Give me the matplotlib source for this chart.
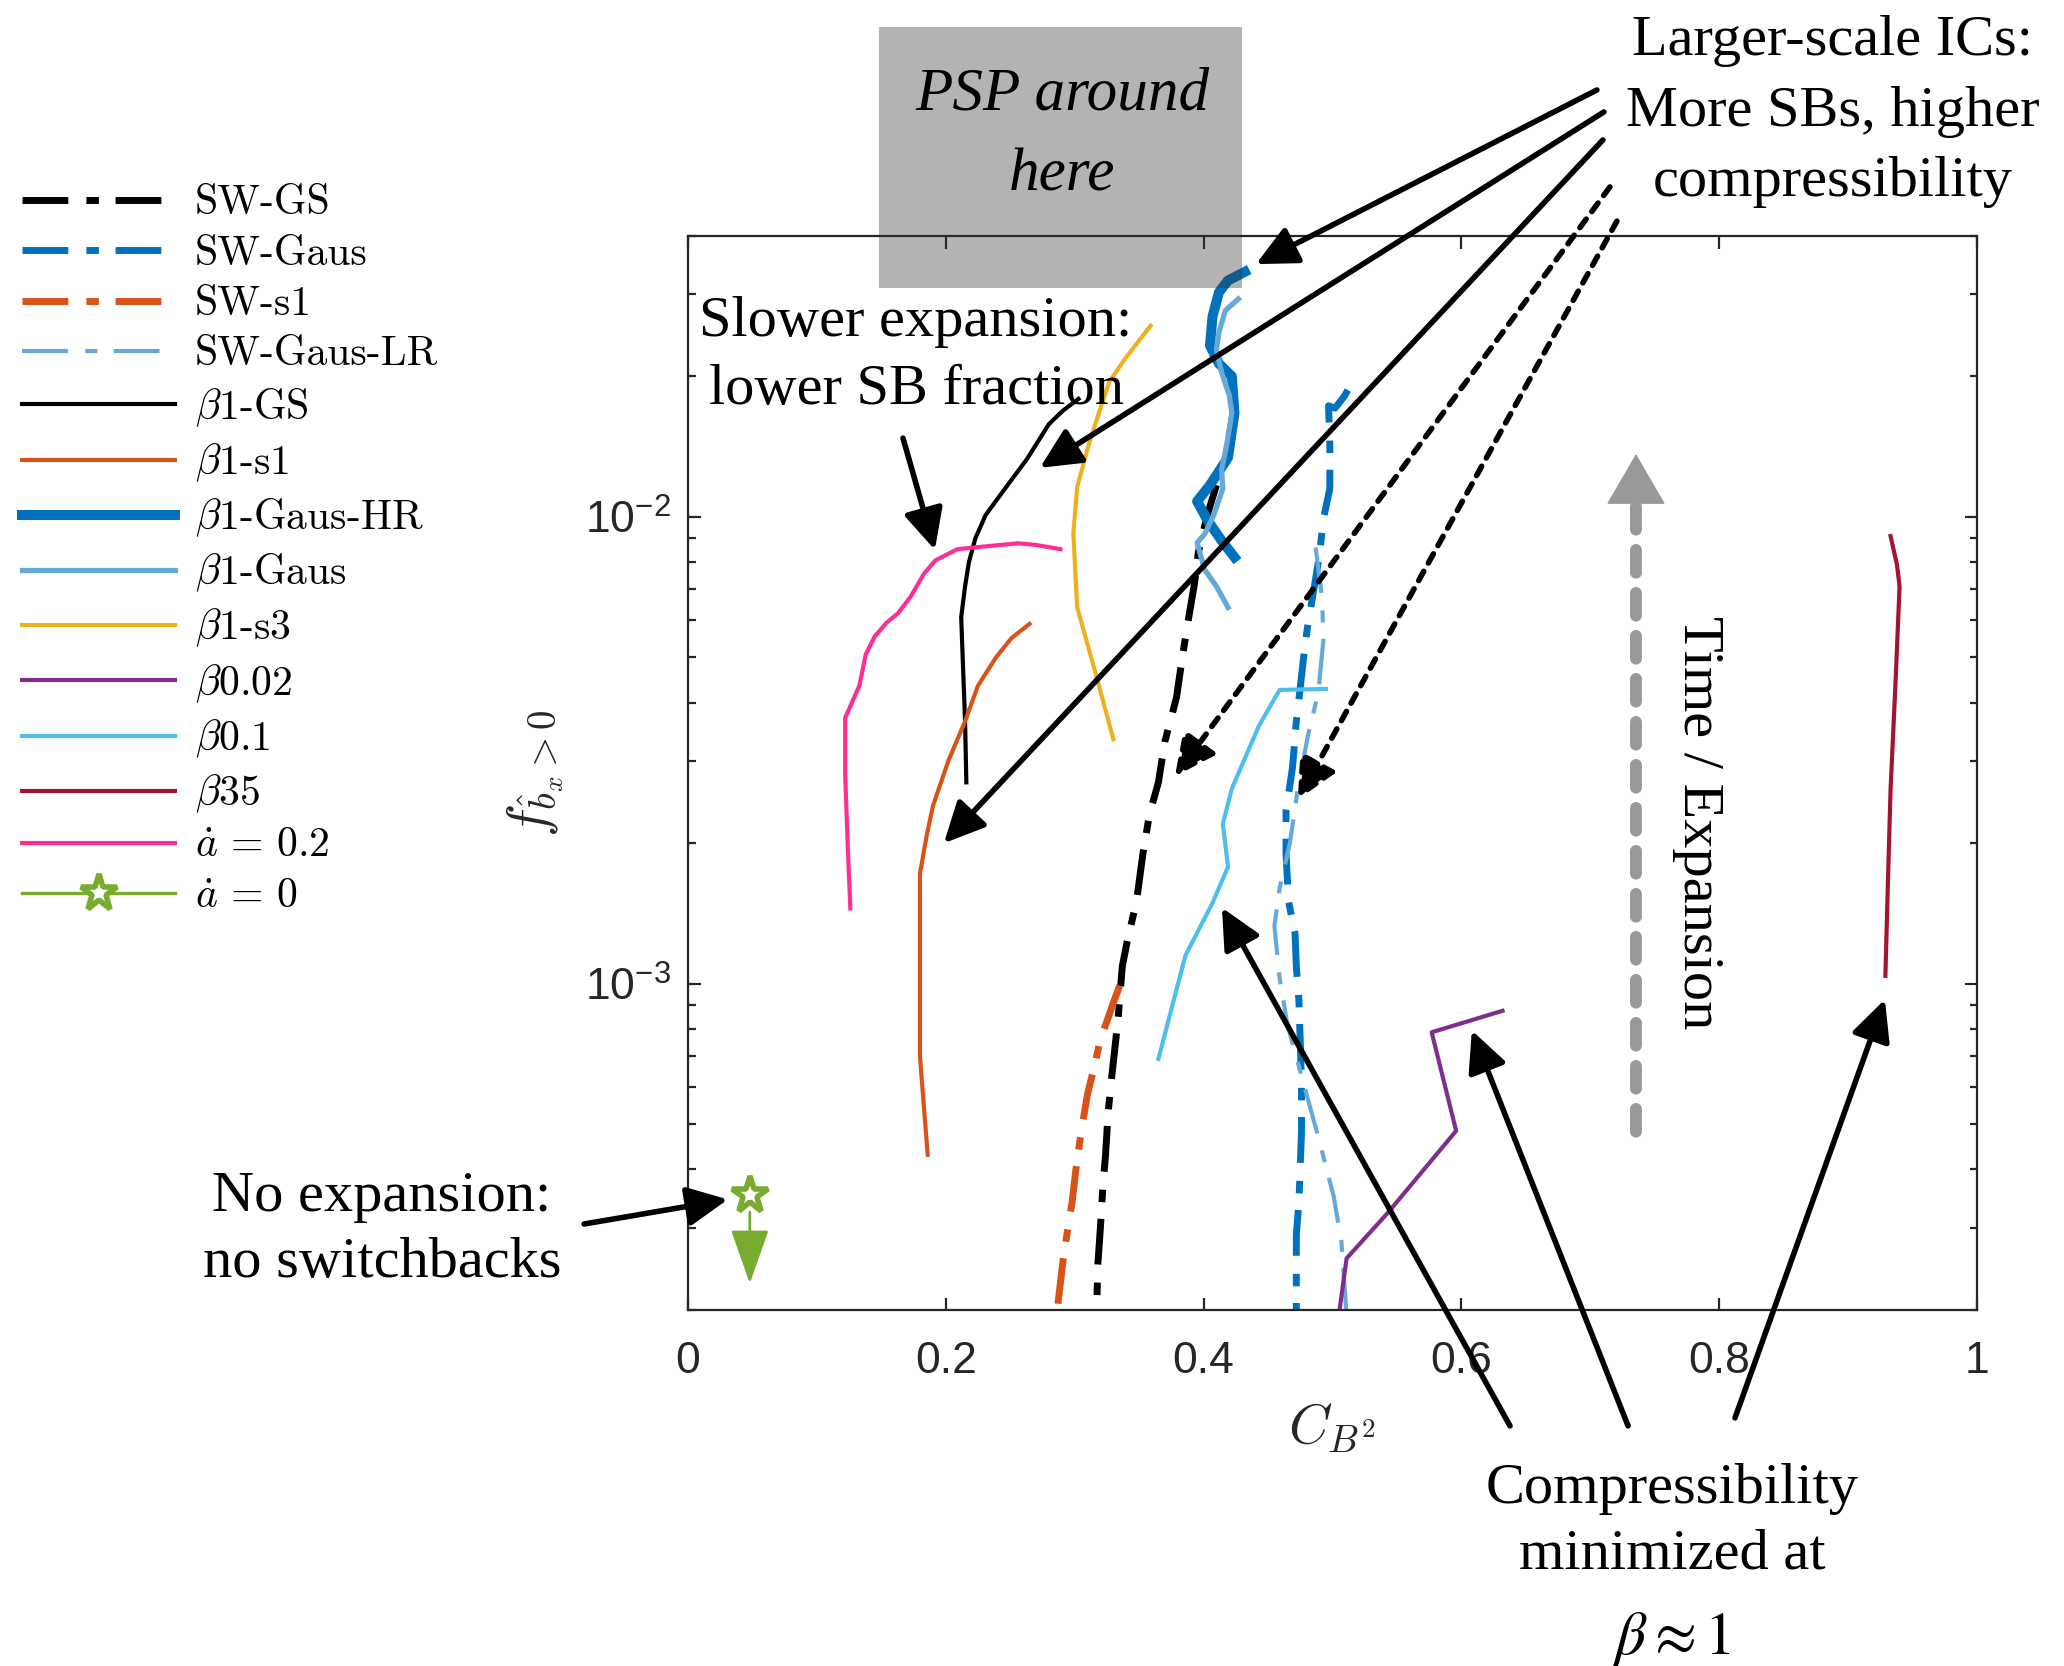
import numpy as np
import matplotlib
matplotlib.use('Agg')
from matplotlib import pyplot as plt
from matplotlib.ticker import LogLocator, NullFormatter
from matplotlib.patches import Rectangle

plt.rcParams['mathtext.fontset'] = 'cm'
plt.rcParams['mathtext.rm'] = 'Liberation Sans'
plt.rcParams['mathtext.it'] = 'Liberation Sans:italic'
plt.rcParams['mathtext.bf'] = 'Liberation Sans:bold'
plt.rcParams['mathtext.sf'] = 'Liberation Sans'

# ---- data: C_{B^2} (x) vs f_{bx>0} (y) ----
sw_gs_x = [0.410, 0.403, 0.396, 0.393, 0.389, 0.384, 0.379, 0.370, 0.365, 0.358, 0.353, 0.348,
           0.341, 0.337, 0.334, 0.332, 0.329, 0.326, 0.324, 0.322, 0.320, 0.318, 0.317]
sw_gs_y = [1.17e-2, 1.01e-2, 8.4e-3, 7.2e-3, 6.2e-3, 5.1e-3, 4.1e-3, 3.3e-3, 2.7e-3, 2.3e-3, 1.9e-3, 1.5e-3,
           1.24e-3, 1.09e-3, 8.6e-4, 7.6e-4, 6.4e-4, 5.3e-4, 4.3e-4, 3.7e-4, 3.0e-4, 2.5e-4, 1.95e-4]

sw_gaus_x = [0.512, 0.509, 0.502, 0.497, 0.498, 0.498, 0.493, 0.490, 0.486, 0.481, 0.478, 0.475, 0.472,
             0.469, 0.464, 0.464, 0.466, 0.471, 0.472, 0.474, 0.475, 0.476, 0.476, 0.474, 0.472, 0.472]
sw_gaus_y = [1.87e-2, 1.81e-2, 1.71e-2, 1.73e-2, 1.43e-2, 1.15e-2, 9.9e-3, 8.3e-3, 7.1e-3, 5.9e-3, 5.1e-3, 4.3e-3, 3.65e-3,
             2.9e-3, 2.35e-3, 1.9e-3, 1.5e-3, 1.28e-3, 1.09e-3, 9.2e-4, 7.6e-4, 6.1e-4, 4.8e-4, 3.4e-4, 2.9e-4, 1.95e-4]

sw_s1_x = [0.335, 0.330, 0.325, 0.320, 0.315, 0.310, 0.305, 0.301, 0.298, 0.294, 0.291, 0.286]
sw_s1_y = [9.9e-4, 9.1e-4, 8.3e-4, 7.6e-4, 6.6e-4, 5.8e-4, 4.8e-4, 4.0e-4, 3.4e-4, 2.9e-4, 2.55e-4, 1.95e-4]

sw_lr_x = [0.487, 0.492, 0.493, 0.489, 0.481, 0.473, 0.467, 0.459, 0.455, 0.459, 0.465, 0.477, 0.489, 0.501, 0.507, 0.511]
sw_lr_y = [8.6e-3, 6.7e-3, 5.45e-3, 4.2e-3, 3.4e-3, 2.6e-3, 2.0e-3, 1.6e-3, 1.33e-3, 1.03e-3, 8.2e-4, 6.2e-4,
           4.7e-4, 3.5e-4, 2.8e-4, 1.95e-4]

b1_gs_x = [0.216, 0.215, 0.212, 0.215, 0.218, 0.223, 0.231, 0.246, 0.263, 0.280, 0.291, 0.303]
b1_gs_y = [2.7e-3, 3.65e-3, 6.1e-3, 7.1e-3, 8.0e-3, 9.0e-3, 1.01e-2, 1.15e-2, 1.33e-2, 1.58e-2, 1.69e-2, 1.79e-2]

b1_s1_x = [0.186, 0.180, 0.180, 0.185, 0.190, 0.202, 0.215, 0.225, 0.239, 0.251, 0.265]
b1_s1_y = [4.3e-4, 7.0e-4, 1.72e-3, 2.06e-3, 2.4e-3, 3.0e-3, 3.65e-3, 4.35e-3, 5.0e-3, 5.5e-3, 5.9e-3]

b1_hr_x = [0.432, 0.419, 0.412, 0.407, 0.405, 0.412, 0.422, 0.424, 0.419, 0.405, 0.395, 0.403, 0.414, 0.424]
b1_hr_y = [3.35e-2, 3.21e-2, 3.03e-2, 2.69e-2, 2.33e-2, 2.13e-2, 2.0e-2, 1.67e-2, 1.34e-2, 1.17e-2, 1.08e-2,
           9.85e-3, 8.9e-3, 8.2e-3]

b1_gaus_x = [0.427, 0.417, 0.412, 0.410, 0.414, 0.420, 0.422, 0.418, 0.414, 0.415, 0.408, 0.401, 0.395, 0.401, 0.410, 0.419]
b1_gaus_y = [2.93e-2, 2.77e-2, 2.49e-2, 2.28e-2, 2.04e-2, 1.82e-2, 1.67e-2, 1.43e-2, 1.26e-2, 1.15e-2, 1.01e-2,
             9.2e-3, 8.8e-3, 7.7e-3, 7.1e-3, 6.4e-3]

b1_s3_x = [0.359, 0.339, 0.327, 0.320, 0.311, 0.302, 0.299, 0.302, 0.317, 0.330]
b1_s3_y = [2.57e-2, 2.18e-2, 1.95e-2, 1.71e-2, 1.43e-2, 1.16e-2, 9.2e-3, 6.4e-3, 4.55e-3, 3.34e-3]

b002_x = [0.505, 0.511, 0.543, 0.596, 0.577, 0.632]
b002_y = [1.95e-4, 2.58e-4, 3.23e-4, 4.84e-4, 7.87e-4, 8.75e-4]

b01_x = [0.495, 0.459, 0.443, 0.422, 0.415, 0.419, 0.407, 0.386, 0.365]
b01_y = [4.28e-3, 4.26e-3, 3.57e-3, 2.62e-3, 2.2e-3, 1.78e-3, 1.49e-3, 1.15e-3, 6.9e-4]

b35_x = [0.933, 0.938, 0.940, 0.937, 0.933, 0.931, 0.929]
b35_y = [9.1e-3, 7.9e-3, 7.1e-3, 4.5e-3, 2.6e-3, 1.66e-3, 1.04e-3]

adot02_x = [0.126, 0.124, 0.122, 0.122, 0.133, 0.138, 0.145, 0.154, 0.163, 0.173, 0.183, 0.192,
            0.209, 0.235, 0.256, 0.270, 0.289]
adot02_y = [1.45e-3, 1.97e-3, 2.8e-3, 3.71e-3, 4.35e-3, 5.08e-3, 5.55e-3, 5.93e-3, 6.22e-3, 6.76e-3, 7.55e-3,
            8.07e-3, 8.53e-3, 8.67e-3, 8.78e-3, 8.71e-3, 8.53e-3]

# no-expansion run: upper limit only
adot0_x = [0.048]
adot0_y = [3.52e-4]
adot0_lim = 2.28e-4

xticks = [0, 0.2, 0.4, 0.6, 0.8, 1]
xtick_labels = ['0', '0.2', '0.4', '0.6', '0.8', '1']
yticks = [1e-3, 1e-2]
ytick_labels = [r'$10^{-3}$', r'$10^{-2}$']

# MATLAB colours
BLUE = '#0072BD'
ORANGE = '#D95319'
LBLUE = '#66A9D9'
YELLOW = '#EDB120'
PURPLE = '#7E2F8E'
CYAN = '#4DBEEE'
DRED = '#A2142F'
PINK = '#FF2E93'
GREEN = '#77AC30'

LW = 1.5
sw_dash = (0, (6.6, 2.6, 1.8, 2.4))
lr_dash = (0, (11.0, 4.2, 2.9, 3.9))

fig = plt.figure(figsize=(10.32, 8.33), dpi=200)
ax = fig.add_axes([0.3333, 0.2137, 0.6245, 0.6447])

ax.plot(sw_gs_x, sw_gs_y, color='k', lw=2.5, ls=sw_dash, label='SW-GS')
ax.plot(sw_gaus_x, sw_gaus_y, color=BLUE, lw=2.5, ls=sw_dash, label='SW-Gaus')
ax.plot(sw_s1_x, sw_s1_y, color=ORANGE, lw=2.5, ls=sw_dash, label='SW-s1')
ax.plot(sw_lr_x, sw_lr_y, color=LBLUE, lw=LW, ls=lr_dash, label='SW-Gaus-LR')
ax.plot(b1_gs_x, b1_gs_y, color='k', lw=LW, label=r'$\beta$1-GS')
ax.plot(b1_s1_x, b1_s1_y, color=ORANGE, lw=LW, label=r'$\beta$1-s1')
ax.plot(b1_hr_x, b1_hr_y, color=BLUE, lw=3.6, label=r'$\beta$1-Gaus-HR')
ax.plot(b1_gaus_x, b1_gaus_y, color=LBLUE, lw=1.9, label=r'$\beta$1-Gaus')
ax.plot(b1_s3_x, b1_s3_y, color=YELLOW, lw=LW, label=r'$\beta$1-s3')
ax.plot(b002_x, b002_y, color=PURPLE, lw=LW, label=r'$\beta$0.02')
ax.plot(b01_x, b01_y, color=CYAN, lw=LW, label=r'$\beta$0.1')
ax.plot(b35_x, b35_y, color=DRED, lw=LW, label=r'$\beta$35')
ax.plot(adot02_x, adot02_y, color=PINK, lw=LW, label=r'$\dot{a}\,=\,0.2$')
ax.plot(adot0_x, adot0_y, color=GREEN, lw=1.2, marker='*', ms=14, mfc='white', mec=GREEN, mew=2,
        label=r'$\dot{a}\,=\,0$', zorder=4)
ax.annotate('', xy=(adot0_x[0], adot0_lim), xytext=(adot0_x[0], adot0_y[0]),
            arrowprops=dict(arrowstyle='-|>,head_length=0.85,head_width=0.3', color=GREEN, lw=1.0,
                            shrinkA=6, shrinkB=0, mutation_scale=20))

ax.set_yscale('log')
ax.set_xlim(0, 1)
ax.set_ylim(2e-4, 4e-2)

AXC = '#262626'
ax.set_xticks(xticks, labels=xtick_labels, fontfamily='Liberation Sans', fontsize=16, color=AXC)
ax.set_yticks(yticks, labels=ytick_labels, fontsize=16, color=AXC, math_fontfamily='custom')
ax.yaxis.set_minor_locator(LogLocator(base=10, subs=np.arange(2, 10)))
ax.yaxis.set_minor_formatter(NullFormatter())
ax.tick_params(which='both', direction='in', top=True, right=True, color=AXC)
ax.tick_params(which='major', length=4.5, width=0.8)
ax.tick_params(which='minor', length=2.7, width=0.8)
ax.tick_params(axis='x', pad=11)
ax.tick_params(axis='y', pad=6)
for s in ax.spines.values():
    s.set_color(AXC)
    s.set_linewidth(0.8)

ax.set_xlabel(r'$C_{B^2}$', fontsize=20, color=AXC)
ax.xaxis.set_label_coords(0.5, -0.085)
ax.set_ylabel(r'$f_{\hat{b}_x>0}$', fontsize=20, color=AXC)
ax.yaxis.set_label_coords(-0.095, 0.5)

leg = fig.legend(loc='upper left', bbox_to_anchor=(0.0107, 0.889), frameon=False,
                 prop={'family': 'cmr10', 'size': 15}, handlelength=3.67, handletextpad=0.48,
                 labelspacing=0.31, borderpad=0, borderaxespad=0, numpoints=1)

# PSP box
ax.add_patch(Rectangle((0.148, 0.031), 0.2818, 0.081, facecolor='#333333', alpha=0.37,
                       edgecolor='none', clip_on=False, zorder=5))
fig.text(0.5145, 0.919, 'PSP around\nhere', ha='center', va='center', fontsize=22,
         family='Liberation Serif', style='italic', linespacing=1.6)

TXT = dict(family='Liberation Serif', fontsize=21, ha='center', va='center')
fig.text(0.888, 0.933, 'Larger-scale ICs:\nMore SBs, higher\ncompressibility', linespacing=1.46, **TXT)
fig.text(0.4438, 0.7863, 'Slower expansion:\nlower SB fraction', linespacing=1.42, **TXT)
fig.text(0.185, 0.262, 'No expansion:\nno switchbacks', linespacing=1.35, **TXT)
fig.text(0.810, 0.0865, 'Compressibility\nminimized at', linespacing=1.35, **TXT)
fig.text(0.810, 0.016, r'$\beta \approx 1$', fontsize=22, ha='center', va='center', math_fontfamily='stix')
fig.text(0.8227, 0.506, 'Time / Expansion', rotation=270, **TXT)


def arrow(tip, start, ls='-'):
    ax.annotate('', xy=tip, xycoords='data', xytext=start, textcoords='figure fraction',
                arrowprops=dict(arrowstyle='-|>,head_length=0.62,head_width=0.3', color='k',
                                lw=2.0, ls=ls, shrinkA=0, shrinkB=0, mutation_scale=20))


dotted = (0, (1.9, 1.7))
arrow((0.4407, 0.0348), (0.7737, 0.946))
arrow((0.2731, 0.01274), (0.7771, 0.9328))
arrow((0.1986, 2.0e-3), (0.7766, 0.916))
arrow((0.3778, 2.78e-3), (0.780, 0.8878), ls=dotted)
arrow((0.4732, 2.48e-3), (0.7834, 0.8673), ls=dotted)
arrow((0.1916, 8.5e-3), (0.4375, 0.737))
arrow((0.031, 3.45e-4), (0.283, 0.2653))
arrow((0.4143, 1.455e-3), (0.7316, 0.1441))
arrow((0.6082, 7.94e-4), (0.7888, 0.1441))
arrow((0.9286, 9.25e-4), (0.8406, 0.1489))

# time / expansion arrow (grey, dashed)
GREY = '#999999'
ax.annotate('', xy=(0.7355, 0.0112), xytext=(0.7355, 4.82e-4),
            arrowprops=dict(arrowstyle='-', color=GREY, lw=4.3, ls=(0, (1.9, 1.7)),
                            shrinkA=0, shrinkB=0))
ax.annotate('', xy=(0.7355, 0.01364), xytext=(0.7355, 0.0105),
            arrowprops=dict(arrowstyle='-|>,head_length=0.86,head_width=0.5', color=GREY, lw=0.5,
                            shrinkA=0, shrinkB=0, mutation_scale=20))

fig.savefig('out.png', dpi=200)
